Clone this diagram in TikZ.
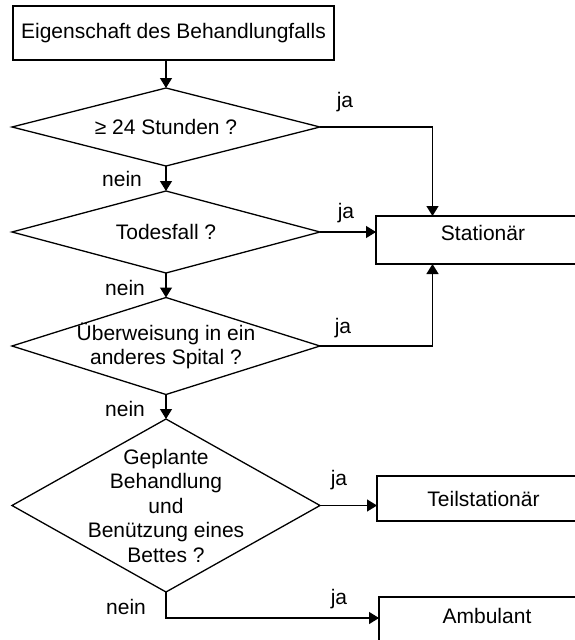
\documentclass[tikz,border=0pt]{standalone}
\usepackage{fontspec}
\setmainfont{Liberation Sans}
\usetikzlibrary{shapes.geometric,arrows.meta}
\begin{document}
\begin{tikzpicture}[x=1pt,y=-1pt,
  every node/.style={font=\fontsize{21}{24.5}\selectfont},
  box/.style={draw,line width=1.3pt,inner sep=0pt,outer sep=0pt},
  dec/.style={draw,diamond,line width=1.3pt,inner sep=0pt,outer sep=0pt},
  arr/.style={line width=1.3pt,-{Triangle[length=10pt,width=12pt]}},
  txt/.style={inner sep=0pt,align=center}]
\useasboundingbox (0,0) rectangle (575,640);
\clip (0,0) rectangle (575,640);
% boxes
\node[box,minimum width=321,minimum height=54] (top) at (173.5,33) {Eigenschaft des Behandlungfalls};
\node[box,minimum width=214,minimum height=48] (stat) at (483,240) {};
\node[txt] (stattxt) at (483,233) {Stationär};
\node[box,minimum width=213,minimum height=45] (teil) at (483.5,498.5) {Teilstationär};
\node[box,minimum width=211,minimum height=48] (amb) at (484.5,621) {};
\node[txt] (ambtxt) at (487,616) {Ambulant};
% diamonds
\node[dec,minimum width=308,minimum height=78] (d1) at (166,127) {};
\node[txt] (d1t) at (d1.center) {≥ 24 Stunden ?};
\node[dec,minimum width=308,minimum height=82] (d2) at (166,232) {};
\node[txt] (d2t) at (d2.center) {Todesfall ?};
\node[dec,minimum width=308,minimum height=97] (d3) at (166,346) {};
\node[txt] (d3t) at (d3.center) {Überweisung in ein\\anderes Spital ?};
\node[dec,minimum width=308,minimum height=173] (d4) at (166,505.5) {};
\node[txt] (d4t) at (d4.center) {Geplante\\Behandlung\\und\\Benützung eines\\Bettes ?};
% helper coordinates
\coordinate (sx) at (432.5,0);
\coordinate (ay) at (166,618);
% connectors
\draw[arr] (top.south -| d1.north) -- (d1.north);
\draw[arr] (d1.south) -- (d2.north);
\draw[arr] (d2.south) -- (d3.north);
\draw[arr] (d3.south) -- (d4.north);
\draw[arr] (d1.east) -| (sx |- stat.north);
\draw[arr] (d2.east) -- (d2.east -| stat.west);
\draw[arr] (d3.east) -| (sx |- stat.south);
\draw[arr] (d4.east) -- (d4.east -| teil.west);
\draw[arr] (d4.south) -- (ay) -- (ay -| amb.west);
% labels
\node[txt] (j1) at (345,102) {ja};
\node[txt] (n1) at (122,179) {nein};
\node[txt] (j2) at (346,213) {ja};
\node[txt] (n2) at (125,288) {nein};
\node[txt] (j3) at (343,328) {ja};
\node[txt] (n3) at (125,409) {nein};
\node[txt] (j4) at (339,480) {ja};
\node[txt] (n4) at (126,607) {nein};
\node[txt] (j5) at (339,599) {ja};
\end{tikzpicture}
\end{document}
